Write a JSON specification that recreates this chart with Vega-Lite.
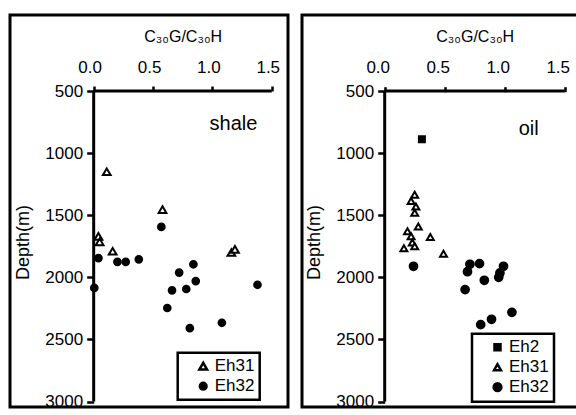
{
  "$schema": "https://vega.github.io/schema/vega-lite/v6.json",
  "padding": {"left": 8, "top": 13, "right": 0, "bottom": 0},
  "spacing": 10,
  "config": {
    "font": "Liberation Sans",
    "view": {"stroke": "black", "strokeWidth": 3},
    "axis": {"grid": false, "domain": false, "tickColor": "black", "tickWidth": 2.5, "labelColor": "black", "labelFontSize": 17, "titleFontSize": 16, "titleFontWeight": "normal", "titleColor": "black", "labelFlush": false},
    "legend": {"labelFontSize": 17, "labelColor": "black", "strokeColor": "black", "strokeWidth": 2.5, "padding": 5, "rowPadding": 2, "symbolStrokeWidth": 2.5, "symbolOffset": 12, "labelOffset": 3}
  },
  "hconcat": [
    {
      "width": 278,
      "height": 392,
      "layer": [
        {
          "data": {"values": [{"x": 0, "x2": 1.5, "y": 500, "y2": 500}, {"x": 0, "x2": 0, "y": 500, "y2": 3000}]},
          "mark": {"type": "rule", "strokeWidth": 3, "color": "black"},
          "encoding": {
            "x": {"field": "x", "type": "quantitative", "scale": {"domain": [-0.705, 1.637], "nice": false, "zero": false},
              "axis": {"orient": "top", "offset": -76, "values": [0, 0.5, 1, 1.5], "format": ".1f", "tickSize": 5, "labelPadding": 10, "labelOffset": -4, "title": "C₃₀G/C₃₀H", "titleX": 172.7, "titleY": -55, "titleAlign": "center", "titleBaseline": "middle", "titleAngle": 0}},
            "x2": {"field": "x2"},
            "y": {"field": "y", "type": "quantitative", "scale": {"domain": [-112, 3044], "reverse": true, "nice": false, "zero": false},
              "axis": {"orient": "left", "offset": -83.7, "values": [500, 1000, 1500, 2000, 2500, 3000], "format": "d", "tickSize": 7, "labelPadding": 4, "title": "Depth(m)", "titleX": -70, "titleY": 227, "titleAngle": -90, "titleAlign": "center", "titleBaseline": "middle", "titleFontSize": 18}},
            "y2": {"field": "y2"}
          }
        },
        {
          "data": {"values": [
            {"x": 0.11, "y": 1150, "group": "Eh31"}, {"x": 0.58, "y": 1455, "group": "Eh31"}, {"x": 0.04, "y": 1670, "group": "Eh31"}, {"x": 0.05, "y": 1715, "group": "Eh31"}, {"x": 0.16, "y": 1790, "group": "Eh31"}, {"x": 1.16, "y": 1800, "group": "Eh31"}, {"x": 1.19, "y": 1775, "group": "Eh31"},
            {"x": 0.04, "y": 1845, "group": "Eh32"}, {"x": 0.005, "y": 2085, "group": "Eh32"}, {"x": 0.2, "y": 1875, "group": "Eh32"}, {"x": 0.27, "y": 1875, "group": "Eh32"}, {"x": 0.38, "y": 1855, "group": "Eh32"}, {"x": 0.57, "y": 1594, "group": "Eh32"}, {"x": 0.72, "y": 1962, "group": "Eh32"}, {"x": 0.84, "y": 1895, "group": "Eh32"}, {"x": 0.86, "y": 2030, "group": "Eh32"}, {"x": 0.66, "y": 2105, "group": "Eh32"}, {"x": 0.78, "y": 2094, "group": "Eh32"}, {"x": 0.62, "y": 2247, "group": "Eh32"}, {"x": 0.81, "y": 2409, "group": "Eh32"}, {"x": 1.08, "y": 2366, "group": "Eh32"}, {"x": 1.38, "y": 2060, "group": "Eh32"}
          ]},
          "mark": {"type": "point", "filled": true, "strokeWidth": 2, "opacity": 1},
          "encoding": {
            "x": {"field": "x", "type": "quantitative"},
            "y": {"field": "y", "type": "quantitative"},
            "shape": {"field": "group", "type": "nominal", "scale": {"domain": ["Eh31", "Eh32"], "range": ["triangle-up", "circle"]}, "legend": {"orient": "none", "legendX": 167.7, "legendY": 337.7, "title": null, "labelExpr": "datum.label + '   '"}},
            "fill": {"field": "group", "type": "nominal", "scale": {"domain": ["Eh31", "Eh32"], "range": ["white", "black"]}, "legend": {"orient": "none", "legendX": 167.7, "legendY": 337.7, "title": null, "labelExpr": "datum.label + '   '"}},
            "stroke": {"field": "group", "type": "nominal", "scale": {"domain": ["Eh31", "Eh32"], "range": ["black", "black"]}, "legend": {"orient": "none", "legendX": 167.7, "legendY": 337.7, "title": null, "labelExpr": "datum.label + '   '"}},
            "size": {"field": "group", "type": "nominal", "scale": {"domain": ["Eh31", "Eh32"], "range": [60, 45]}, "legend": {"orient": "none", "legendX": 167.7, "legendY": 337.7, "title": null, "labelExpr": "datum.label + '   '"}}
          }
        },
        {
          "data": {"values": [{"x": 1.178, "y": 766, "label": "shale"}]},
          "mark": {"type": "text", "fontSize": 20, "align": "center", "baseline": "middle", "color": "black"},
          "encoding": {
            "x": {"field": "x", "type": "quantitative"},
            "y": {"field": "y", "type": "quantitative"},
            "text": {"field": "label"}
          }
        }
      ]
    },
    {
      "width": 280,
      "height": 392,
      "layer": [
        {
          "data": {"values": [{"x": 0, "x2": 1.5, "y": 500, "y2": 500}, {"x": 0, "x2": 0, "y": 500, "y2": 3000}]},
          "mark": {"type": "rule", "strokeWidth": 3, "color": "black"},
          "encoding": {
            "x": {"field": "x", "type": "quantitative", "scale": {"domain": [-0.689, 1.644], "nice": false, "zero": false},
              "axis": {"orient": "top", "offset": -76.7, "values": [0, 0.5, 1, 1.5], "format": ".1f", "tickSize": 5, "labelPadding": 10, "labelOffset": -7, "title": "C₃₀G/C₃₀H", "titleX": 172.7, "titleY": -55, "titleAlign": "center", "titleBaseline": "middle", "titleAngle": 0}},
            "x2": {"field": "x2"},
            "y": {"field": "y", "type": "quantitative", "scale": {"domain": [-112, 3044], "reverse": true, "nice": false, "zero": false},
              "axis": {"orient": "left", "offset": -82.7, "values": [500, 1000, 1500, 2000, 2500, 3000], "format": "d", "tickSize": 7, "labelPadding": 4, "title": "Depth(m)", "titleX": -70, "titleY": 227, "titleAngle": -90, "titleAlign": "center", "titleBaseline": "middle", "titleFontSize": 18}},
            "y2": {"field": "y2"}
          }
        },
        {
          "data": {"values": [
            {"x": 0.31, "y": 889, "group": "Eh2"},
            {"x": 0.25, "y": 1335, "group": "Eh31"}, {"x": 0.22, "y": 1385, "group": "Eh31"}, {"x": 0.26, "y": 1430, "group": "Eh31"}, {"x": 0.25, "y": 1480, "group": "Eh31"}, {"x": 0.28, "y": 1590, "group": "Eh31"}, {"x": 0.19, "y": 1630, "group": "Eh31"}, {"x": 0.22, "y": 1670, "group": "Eh31"}, {"x": 0.38, "y": 1675, "group": "Eh31"}, {"x": 0.23, "y": 1720, "group": "Eh31"}, {"x": 0.25, "y": 1750, "group": "Eh31"}, {"x": 0.16, "y": 1765, "group": "Eh31"}, {"x": 0.49, "y": 1810, "group": "Eh31"},
            {"x": 0.24, "y": 1911, "group": "Eh32"}, {"x": 0.71, "y": 1895, "group": "Eh32"}, {"x": 0.79, "y": 1890, "group": "Eh32"}, {"x": 0.69, "y": 1955, "group": "Eh32"}, {"x": 0.83, "y": 2024, "group": "Eh32"}, {"x": 0.67, "y": 2099, "group": "Eh32"}, {"x": 0.99, "y": 1911, "group": "Eh32"}, {"x": 0.96, "y": 1965, "group": "Eh32"}, {"x": 0.95, "y": 2000, "group": "Eh32"}, {"x": 1.06, "y": 2282, "group": "Eh32"}, {"x": 0.89, "y": 2338, "group": "Eh32"}, {"x": 0.8, "y": 2381, "group": "Eh32"}
          ]},
          "mark": {"type": "point", "filled": true, "strokeWidth": 2, "opacity": 1},
          "encoding": {
            "x": {"field": "x", "type": "quantitative"},
            "y": {"field": "y", "type": "quantitative"},
            "shape": {"field": "group", "type": "nominal", "scale": {"domain": ["Eh2", "Eh31", "Eh32"], "range": ["square", "triangle-up", "circle"]}, "legend": {"orient": "none", "legendX": 170, "legendY": 318.7, "title": null, "labelExpr": "datum.label + '   '"}},
            "fill": {"field": "group", "type": "nominal", "scale": {"domain": ["Eh2", "Eh31", "Eh32"], "range": ["black", "white", "black"]}, "legend": {"orient": "none", "legendX": 170, "legendY": 318.7, "title": null, "labelExpr": "datum.label + '   '"}},
            "stroke": {"field": "group", "type": "nominal", "scale": {"domain": ["Eh2", "Eh31", "Eh32"], "range": ["black", "black", "black"]}, "legend": {"orient": "none", "legendX": 170, "legendY": 318.7, "title": null, "labelExpr": "datum.label + '   '"}},
            "size": {"field": "group", "type": "nominal", "scale": {"domain": ["Eh2", "Eh31", "Eh32"], "range": [36, 60, 45]}, "legend": {"orient": "none", "legendX": 170, "legendY": 318.7, "title": null, "labelExpr": "datum.label + '   '"}}
          }
        },
        {
          "data": {"values": [{"x": 1.2, "y": 806, "label": "oil"}]},
          "mark": {"type": "text", "fontSize": 20, "align": "center", "baseline": "middle", "color": "black"},
          "encoding": {
            "x": {"field": "x", "type": "quantitative"},
            "y": {"field": "y", "type": "quantitative"},
            "text": {"field": "label"}
          }
        }
      ]
    }
  ],
  "resolve": {"scale": {"shape": "independent", "fill": "independent", "stroke": "independent", "size": "independent", "x": "independent", "y": "independent"}, "legend": {"shape": "independent", "fill": "independent", "stroke": "independent", "size": "independent"}}
}
